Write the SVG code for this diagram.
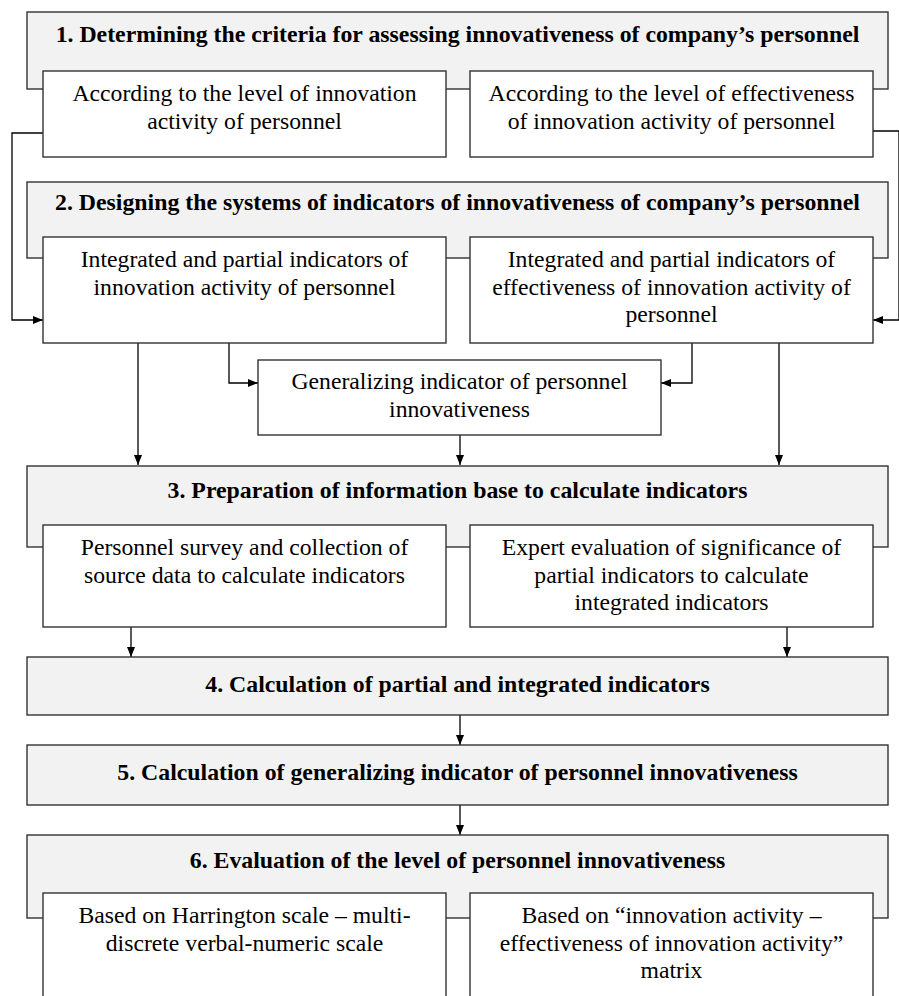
<svg xmlns="http://www.w3.org/2000/svg" width="899" height="996" viewBox="0 0 899 996" font-family="Liberation Serif, serif">
<style>
.stage{fill:#f2f2f2;stroke:#333;stroke-width:1.4}
.box{fill:#fff;stroke:#333;stroke-width:1.4}
.t{font-size:23.7px;fill:#000;text-anchor:middle}
.h{font-size:23.8px;font-weight:bold;fill:#000;text-anchor:middle}
.c{fill:none;stroke:#000;stroke-width:1.3}
</style>
<defs>
<marker id="ar" viewBox="0 0 10 8" refX="10" refY="4" markerWidth="10" markerHeight="8" markerUnits="userSpaceOnUse" orient="auto">
<path d="M0,0 L10,4 L0,8 Z" fill="#000"/>
</marker>
</defs>
<rect width="899" height="996" fill="#fff"/>
<g id="connectors">
<path class="c" d="M43,133 H12 V320 H43" marker-end="url(#ar)"/>
<path class="c" d="M873,131 H899 V320 H873" marker-end="url(#ar)"/>
<path class="c" d="M138,343 V465" marker-end="url(#ar)"/>
<path class="c" d="M229,343 V383 H258" marker-end="url(#ar)"/>
<path class="c" d="M692,343 V383 H661" marker-end="url(#ar)"/>
<path class="c" d="M779,343 V465" marker-end="url(#ar)"/>
<path class="c" d="M460,435 V465" marker-end="url(#ar)"/>
<path class="c" d="M131,627 V657" marker-end="url(#ar)"/>
<path class="c" d="M787,627 V657" marker-end="url(#ar)"/>
<path class="c" d="M460,715 V745" marker-end="url(#ar)"/>
<path class="c" d="M460,805 V835" marker-end="url(#ar)"/>
</g>
<g id="stage1">
<rect class="stage" x="27" y="12" width="861" height="77"/>
<text class="h" x="457.5" y="42">1. Determining the criteria for assessing innovativeness of company’s personnel</text>
</g>
<g id="s1a">
<rect class="box" x="43" y="71" width="403" height="86"/>
<text class="t" x="244.5" y="101">According to the level of innovation</text>
<text class="t" x="244.5" y="128.5">activity of personnel</text>
</g>
<g id="s1b">
<rect class="box" x="470" y="71" width="403" height="86"/>
<text class="t" x="671.5" y="101">According to the level of effectiveness</text>
<text class="t" x="671.5" y="128.5">of innovation activity of personnel</text>
</g>
<g id="stage2">
<rect class="stage" x="27" y="182" width="861" height="76"/>
<text class="h" x="457.5" y="210">2. Designing the systems of indicators of innovativeness of company’s personnel</text>
</g>
<g id="s2a">
<rect class="box" x="43" y="237" width="403" height="106"/>
<text class="t" x="244.5" y="267">Integrated and partial indicators of</text>
<text class="t" x="244.5" y="294.5">innovation activity of personnel</text>
</g>
<g id="s2b">
<rect class="box" x="470" y="237" width="403" height="106"/>
<text class="t" x="671.5" y="267">Integrated and partial indicators of</text>
<text class="t" x="671.5" y="294.5">effectiveness of innovation activity of</text>
<text class="t" x="671.5" y="322">personnel</text>
</g>
<g id="gen">
<rect class="box" x="258" y="360" width="403" height="75"/>
<text class="t" x="459.5" y="389">Generalizing indicator of personnel</text>
<text class="t" x="459.5" y="416.5">innovativeness</text>
</g>
<g id="stage3">
<rect class="stage" x="27" y="466" width="861" height="81"/>
<text class="h" x="457.5" y="498">3. Preparation of information base to calculate indicators</text>
</g>
<g id="s3a">
<rect class="box" x="43" y="525" width="403" height="102"/>
<text class="t" x="244.5" y="555">Personnel survey and collection of</text>
<text class="t" x="244.5" y="582.5">source data to calculate indicators</text>
</g>
<g id="s3b">
<rect class="box" x="470" y="525" width="403" height="102"/>
<text class="t" x="671.5" y="555">Expert evaluation of significance of</text>
<text class="t" x="671.5" y="582.5">partial indicators to calculate</text>
<text class="t" x="671.5" y="610">integrated indicators</text>
</g>
<g id="stage4">
<rect class="stage" x="27" y="657" width="861" height="58"/>
<text class="h" x="457.5" y="692">4. Calculation of partial and integrated indicators</text>
</g>
<g id="stage5">
<rect class="stage" x="27" y="745" width="861" height="60"/>
<text class="h" x="457.5" y="780">5. Calculation of generalizing indicator of personnel innovativeness</text>
</g>
<g id="stage6">
<rect class="stage" x="27" y="835" width="861" height="83"/>
<text class="h" x="457.5" y="868">6. Evaluation of the level of personnel innovativeness</text>
</g>
<g id="s6a">
<rect class="box" x="43" y="893" width="403" height="120"/>
<text class="t" x="244.5" y="923">Based on Harrington scale – multi-</text>
<text class="t" x="244.5" y="950.5">discrete verbal-numeric scale</text>
</g>
<g id="s6b">
<rect class="box" x="470" y="893" width="403" height="120"/>
<text class="t" x="671.5" y="923">Based on “innovation activity –</text>
<text class="t" x="671.5" y="950.5">effectiveness of innovation activity”</text>
<text class="t" x="671.5" y="978">matrix</text>
</g>
</svg>
